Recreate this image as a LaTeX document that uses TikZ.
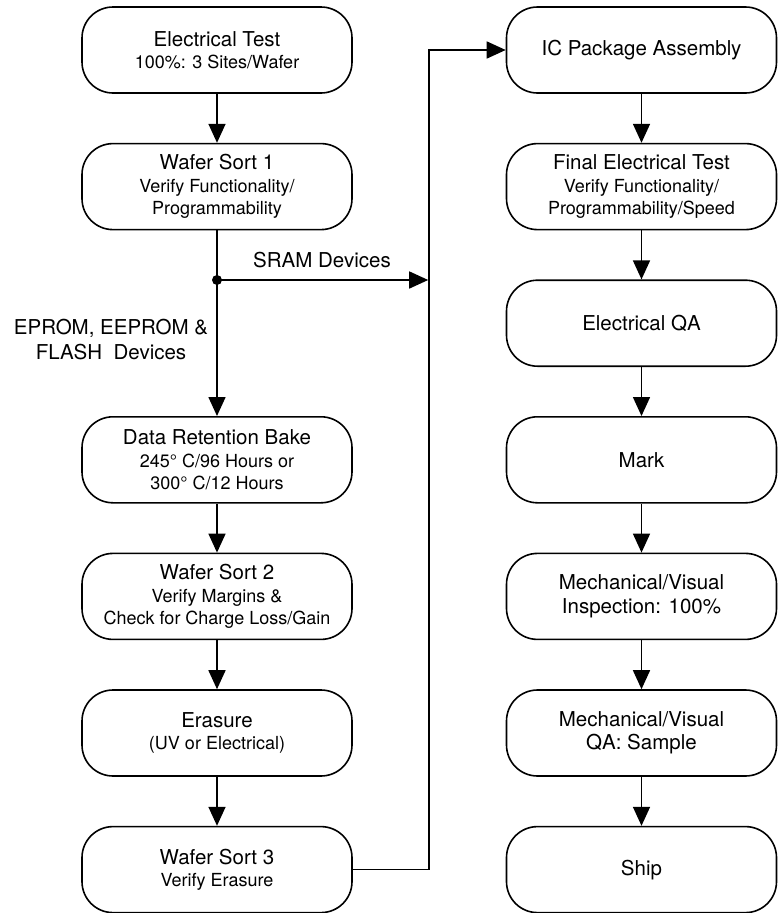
\documentclass[tikz,border=0pt]{standalone}
\usepackage{fontspec}
\setmainfont{TeX Gyre Heros}
\usetikzlibrary{arrows.meta}
\newcommand\boxtitle[1]{{\fontsize{20.5}{24}\selectfont #1}}
\begin{document}
\begin{tikzpicture}[x=1pt,y=-1pt,
  flowbox/.style={draw, line width=1.6pt, rounded corners=31pt,
    minimum width=270pt, minimum height=86pt, align=center, inner sep=0pt,
    font=\fontsize{18}{22.5}\selectfont},
  flow/.style={line width=1.6pt, -{Triangle[length=19pt,width=17pt]}},
  wire/.style={line width=1.6pt},
  lbl/.style={font=\fontsize{20.5}{25}\selectfont, align=center, inner sep=0pt}]
\useasboundingbox[fill=white] (0,0) rectangle (778,913);

% left column: wafer-level flow
\node[flowbox] (et)  at (217,50)    {\boxtitle{Electrical Test}\\100\%: 3 Sites/Wafer};
\node[flowbox] (ws1) at (217,186.6) {\boxtitle{Wafer Sort 1}\\Verify Functionality/\\Programmability};
\node[flowbox] (drb) at (217,459.8) {\boxtitle{Data Retention Bake}\\245° C/96 Hours or\\300° C/12 Hours};
\node[flowbox] (ws2) at (217,596.4) {\boxtitle{Wafer Sort 2}\\Verify Margins \&\\Check for Charge Loss/Gain};
\node[flowbox] (era) at (217,733)   {\boxtitle{Erasure}\\(UV or Electrical)};
\node[flowbox] (ws3) at (217,869.6) {\boxtitle{Wafer Sort 3}\\Verify Erasure};

% right column: package-level flow
\node[flowbox] (ica) at (641.5,50)    {\boxtitle{IC Package Assembly}};
\node[flowbox] (fet) at (641.5,186.6) {\boxtitle{Final Electrical Test}\\Verify Functionality/\\Programmability/Speed};
\node[flowbox] (eqa) at (641.5,323.2) {\boxtitle{Electrical QA}};
\node[flowbox] (mrk) at (641.5,459.8) {\boxtitle{Mark}};
\node[flowbox] (mvi) at (641.5,596.4) {\boxtitle{Mechanical/Visual}\\[1pt]\boxtitle{Inspection: 100\%}};
\node[flowbox] (mvq) at (641.5,733)   {\boxtitle{Mechanical/Visual}\\[1pt]\boxtitle{QA: Sample}};
\node[flowbox] (shp) at (641.5,869.6) {\boxtitle{Ship}};

% branch point and return bus
\coordinate (jn) at (217,280);
\coordinate (up) at (429,50);

\draw[flow] (et) -- (ws1);
\draw[wire] (ws1) -- (jn);
\draw[flow] (jn) -- (drb);
\draw[flow] (drb) -- (ws2);
\draw[flow] (ws2) -- (era);
\draw[flow] (era) -- (ws3);
\draw[flow, shorten >=0.8pt] (jn) -- (jn -| up);
\draw[flow] (ws3.east) -| (up) -- (ica.west);
\fill (jn) circle (5pt);

\draw[flow] (ica) -- (fet);
\draw[flow] (fet) -- (eqa);
\draw[flow] (eqa) -- (mrk);
\draw[flow] (mrk) -- (mvi);
\draw[flow] (mvi) -- (mvq);
\draw[flow] (mvq) -- (shp);

% branch labels
\node[lbl] (sram) at (322,260) {SRAM Devices};
\node[lbl] (eprom) at (111,340) {EPROM, EEPROM \&\\FLASH\ \ Devices};
\end{tikzpicture}
\end{document}
